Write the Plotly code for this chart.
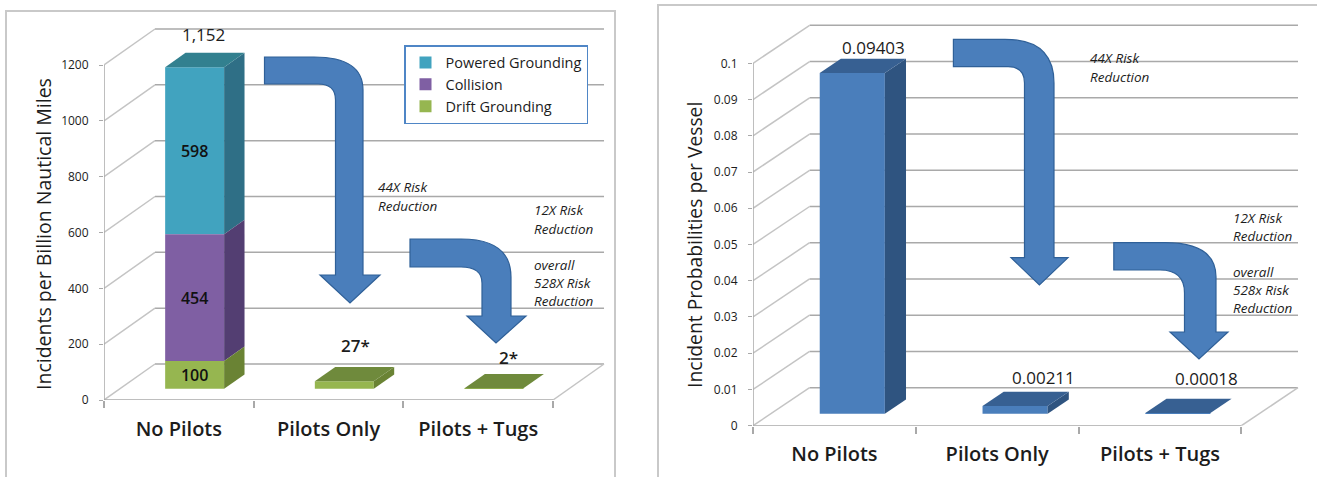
import plotly.graph_objects as go

W, H = 1317, 477
FONT = "Open Sans"

categories = ["No Pilots", "Pilots Only", "Pilots + Tugs"]
powered = [598, 0, 0]
collision = [454, 0, 0]
drift = [100, 27, 2]
segment_labels = {"powered": ["598", "", ""], "collision": ["454", "", ""], "drift": ["100", "", ""]}
left_ticks = [0, 200, 400, 600, 800, 1000, 1200]
prob = [0.09403, 0.00211, 0.00018]
right_ticks = [0, 0.01, 0.02, 0.03, 0.04, 0.05, 0.06, 0.07, 0.08, 0.09, 0.1]
right_ticktext = ["0", "0.01", "0.02", "0.03", "0.04", "0.05", "0.06", "0.07", "0.08", "0.09", "0.1"]

GRID = "#a9a9a9"
WALL = "#c4c4c4"
TEXT = "#1c1c1c"
ARROW = "#4a7ebb"
ARROW_EDGE = "#2f6098"


def fx(px):
    return px / W


def fy(py):
    return 1 - py / H


fig = go.Figure()
shapes = []
annotations = []


def card(x0, y0, x1, y1):
    shapes.append(dict(type="rect", xref="paper", yref="paper", x0=fx(x0), x1=fx(x1), y0=fy(y1), y1=fy(y0),
                       line=dict(color="#c9c9c9", width=2), fillcolor="white", layer="below"))


def arrow(sx, ytop, ybot, oq, ox, oy, ywing, wl, wr, tx, ty, ix, iy, iq):
    pts = [("M", sx, ytop), ("L", oq, ytop), ("Q", ox, ytop, ox, oy), ("L", ox, ywing), ("L", wr, ywing),
           ("L", tx, ty), ("L", wl, ywing), ("L", ix, ywing), ("L", ix, iy), ("Q", ix, ybot, iq, ybot),
           ("L", sx, ybot)]
    d = ""
    for p in pts:
        d += p[0] + " " + " ".join(
            f"{fx(v) if k % 2 == 0 else fy(v):.5f}" for k, v in enumerate(p[1:])) + " "
    shapes.append(dict(type="path", xref="paper", yref="paper", path=d + "Z", fillcolor=ARROW,
                       line=dict(color=ARROW_EDGE, width=1.2), layer="above"))


def note(px, py, s, size=11, italic=False, anchor="left", weight=None, angle=0, color=TEXT):
    t = f"<i>{s}</i>" if italic else s
    annotations.append(dict(xref="paper", yref="paper", x=fx(px), y=fy(py), text=t, showarrow=False,
                            xanchor=anchor, yanchor="middle", textangle=angle,
                            font=dict(family=FONT, size=size, color=color, weight=weight)))


def panel(idx, x0, xcat, xright, y0, ptop, vscale, depth_x, depth_y, d0, d1, barw, ticks, ticktext, standoff):
    """Set up one pseudo-3D plot: front plane is data space, depth d shifts by (depth_x, depth_y)."""
    xa, ya = ("x", "y") if idx == 1 else (f"x{idx}", f"y{idx}")
    xname, yname = ("xaxis", "yaxis") if idx == 1 else (f"xaxis{idx}", f"yaxis{idx}")
    dx = depth_x / xcat
    dy = depth_y / vscale
    fig.layout[xname] = dict(domain=[fx(x0), fx(xright)], range=[0, (xright - x0) / xcat], anchor=ya,
                             automargin=False,
                             tickvals=[0.5, 1.5, 2.5], ticktext=categories, ticks="outside", ticklen=1,
                             tickcolor="rgba(0,0,0,0)", ticklabelstandoff=standoff, showgrid=False, zeroline=False,
                             showline=False, tickfont=dict(family=FONT, size=20, color=TEXT, weight=600),
                             minor=dict(tickvals=[0, 1, 2, 3], ticks="outside", ticklen=7, tickcolor=GRID,
                                        tickwidth=1.5, showgrid=False))
    fig.layout[yname] = dict(domain=[fy(y0), fy(ptop)], range=[0, (y0 - ptop) / vscale], anchor=xa,
                             automargin=False,
                             tickvals=ticks, ticktext=ticktext, ticks="outside", ticklen=4, tickcolor=GRID,
                             ticklabelstandoff=8, showgrid=False, zeroline=False, showline=False,
                             tickfont=dict(family=FONT, size=12, color=TEXT))

    def wall_line(xs, ys, color=WALL):
        fig.add_trace(go.Scatter(x=xs, y=ys, xaxis=xa, yaxis=ya, mode="lines", cliponaxis=False,
                                 line=dict(color=color, width=1.5), showlegend=False, hoverinfo="skip"))

    for v in ticks:
        shapes.append(dict(type="line", xref=xa, yref=ya, x0=dx, x1=3 + dx, y0=v + dy, y1=v + dy,
                           line=dict(color=GRID, width=1.5), layer="below"))
        wall_line([0, dx], [v, v + dy])
    wall_line([3, 3 + dx], [0, dy])
    wall_line([0, 3], [0, 0], GRID)
    wall_line([0, 0], [0, ticks[-1]], GRID)

    def box(name, vals, bases, front, side, top, texts, show_top):
        fig.add_trace(go.Bar(
            x=[i + 0.5 + d0 * dx for i in range(3)], y=vals, base=[b + d0 * dy for b in bases], width=barw,
            xaxis=xa, yaxis=ya, name=name, showlegend=idx == 1 and name is not None, legendgroup=name,
            marker=dict(color=front, line=dict(width=0)), text=texts, textposition="inside",
            insidetextanchor="middle", textangle=0, constraintext="none",
            textfont=dict(family=FONT, size=16, color="#111111", weight=600), hoverinfo="skip"))
        for i, (v, b) in enumerate(zip(vals, bases)):
            if v <= 0:
                continue
            xl = i + 0.5 + d0 * dx - barw / 2
            xr = xl + barw
            ydn = b + d0 * dy
            yup = ydn + v
            sd = (d1 - d0)
            fig.add_trace(go.Scatter(
                x=[xr, xr + sd * dx, xr + sd * dx, xr, xr], y=[ydn, ydn + sd * dy, yup + sd * dy, yup, ydn],
                xaxis=xa, yaxis=ya, mode="lines", fill="toself", fillcolor=side, line=dict(width=0),
                showlegend=False, hoverinfo="skip", cliponaxis=False))
            if show_top[i]:
                fig.add_trace(go.Scatter(
                    x=[xl, xr, xr + sd * dx, xl + sd * dx, xl], y=[yup, yup, yup + sd * dy, yup + sd * dy, yup],
                    xaxis=xa, yaxis=ya, mode="lines", fill="toself", fillcolor=top, line=dict(width=0),
                    showlegend=False, hoverinfo="skip", cliponaxis=False))
    return box


# ---------- left chart ----------
card(6, 11, 615, 490)
card(658, 5, 1330, 490)
box = panel(1, 104, 149.67, 610, 400, 26, 335 / 1200, 51, 36, 0.31, 0.71, 0.394, left_ticks,
            [str(t) for t in left_ticks], 10)
b_col = [d + 0 for d in drift]
b_pow = [d + c for d, c in zip(drift, collision)]
box("Powered Grounding", powered, b_pow, "#41a3bf", "#2f6f86", "#32808f", segment_labels["powered"], [True, False, False])
box("Collision", collision, b_col, "#7f5fa3", "#533e72", "#5c4480", segment_labels["collision"], [False, False, False])
box("Drift Grounding", drift, [0, 0, 0], "#96b650", "#6a8334", "#6f8a3c", segment_labels["drift"], [False, True, True])

# ---------- right chart ----------
box = panel(2, 753, 162.8, 1304, 425.7, 22, 3624, 56.6, 38, 0.316, 0.69, 0.4, right_ticks, right_ticktext, 9)
box(None, prob, [0, 0, 0], "#4a7ebb", "#2f5480", "#376092", ["", "", ""], [True, True, True])

# ---------- arrows ----------
arrow(264.5, 57, 84, 314, 363, 90, 275, 320, 380, 350, 303, 335.5, 100, 318)
arrow(410, 239, 267, 461, 511, 277, 316, 467, 526, 496, 343, 482, 283, 461)
arrow(953.4, 39.3, 66.7, 1005, 1054, 83, 257.7, 1011, 1068, 1039.4, 285, 1024.5, 83, 1008)
arrow(1113.8, 242.7, 270, 1165, 1216, 277, 332, 1170, 1228, 1199, 359, 1184.5, 293, 1160)

# ---------- text ----------
note(43, 234, "Incidents per Billion Nautical Miles", size=19.5, anchor="center", angle=-90)
note(695, 245, "Incident Probabilities per Vessel", size=19.3, anchor="center", angle=-90)
note(203, 34, "1,152", size=17, anchor="center")
note(355, 345, "27*", size=17, anchor="center", weight=600)
note(508, 357, "2*", size=17, anchor="center", weight=600)
note(873, 47, "0.09403", size=17, anchor="center")
note(1043.6, 377, "0.00211", size=17, anchor="center")
note(1206.6, 378, "0.00018", size=17, anchor="center")
for px, py, s in [(376, 187, "44X Risk"), (376, 206, "Reduction"), (532, 210, "12X Risk"), (532, 229, "Reduction"),
                  (532, 265, "overall"), (532, 283, "528X Risk"), (532, 301, "Reduction"),
                  (1088, 58, "44X Risk"), (1088, 77, "Reduction"), (1231, 218, "12X Risk"), (1231, 236, "Reduction"),
                  (1231, 272, "overall"), (1231, 290, "528x Risk"), (1231, 308, "Reduction")]:
    note(px, py, s, italic=True, size=13.5)

fig.update_layout(
    width=W, height=H, margin=dict(l=0, r=0, t=0, b=0), paper_bgcolor="white", plot_bgcolor="rgba(0,0,0,0)",
    barmode="overlay", shapes=shapes, annotations=annotations,
    legend=dict(x=fx(404), y=fy(45), xanchor="left", yanchor="top", bgcolor="white", bordercolor="#4f86c6",
                borderwidth=1.5, font=dict(family=FONT, size=14.5, color=TEXT), tracegroupgap=6,
                itemwidth=30, entrywidth=144, entrywidthmode="pixels", traceorder="normal"),
)
fig.write_html("out.html", post_script="document.body.style.margin='0';", config={"displayModeBar": False})
